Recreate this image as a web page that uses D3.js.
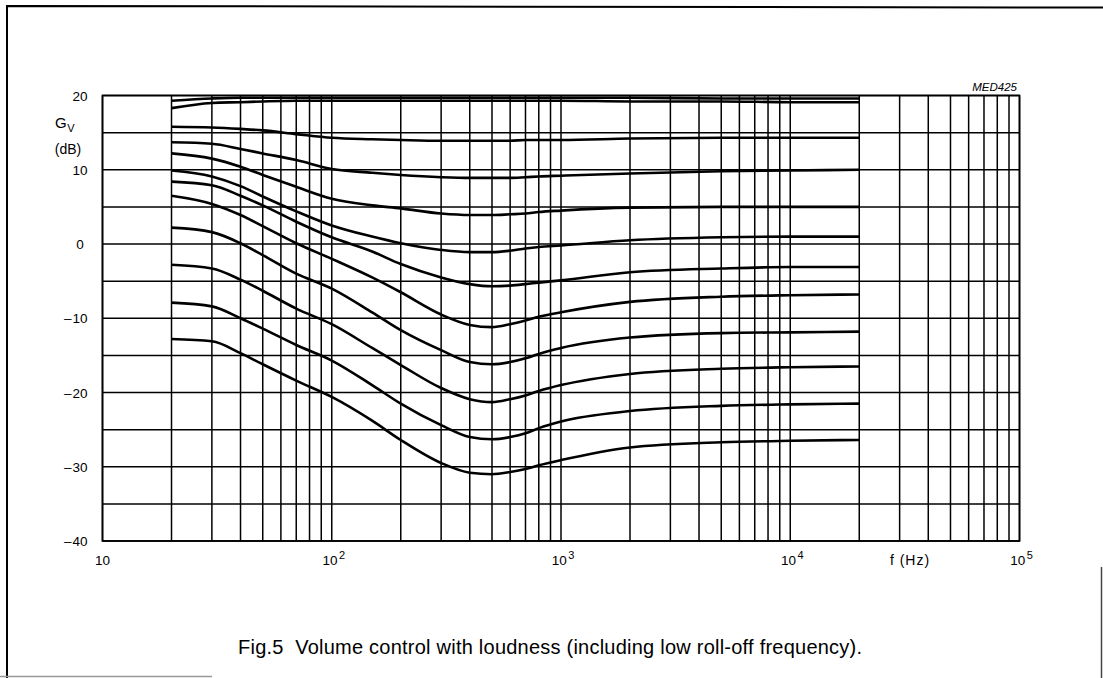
<!DOCTYPE html>
<html><head><meta charset="utf-8">
<script src="https://cdn.jsdelivr.net/npm/d3@7"></script>
<style>
html,body{margin:0;padding:0;background:#fff;}
svg{display:block;}
text{font-family:"Liberation Sans",Arial,sans-serif;fill:#000;}
</style></head>
<body>
<svg id="chart" width="1103" height="678"></svg>
<script>
// ---- data ----
const freqs = [20,30,40,50,70,100,150,200,300,400,500,600,700,800,1000,2000,5000,10000,20000];
const curve1  = [19.3,19.6,19.7,19.7,19.7,19.7,19.7,19.7,19.7,19.7,19.7,19.7,19.7,19.7,19.7,19.7,19.6,19.6,19.6];
const curve2  = [18.3,19.0,19.1,19.2,19.3,19.3,19.3,19.3,19.3,19.3,19.3,19.3,19.3,19.3,19.3,19.2,19.2,19.1,19.1];
const curve3  = [15.8,15.7,15.5,15.3,14.8,14.3,14.1,14.0,13.9,13.9,13.9,13.9,14.0,14.0,14.0,14.2,14.3,14.3,14.3];
const curve4  = [13.7,13.5,12.8,12.2,11.3,10.1,9.6,9.3,9.0,8.9,8.9,8.9,9.0,9.1,9.2,9.5,9.8,9.9,10.0];
const curve5  = [12.2,11.5,10.4,9.3,7.7,6.1,5.2,4.8,4.1,3.9,3.9,4.0,4.1,4.3,4.5,4.9,5.0,5.0,5.0];
const curve6  = [9.9,9.1,7.8,6.4,4.4,2.5,1.0,0.1,-0.8,-1.1,-1.1,-0.9,-0.6,-0.4,-0.2,0.5,0.9,1.0,1.0];
const curve7  = [8.4,7.9,6.5,5.2,3.0,0.9,-1.0,-2.7,-4.5,-5.4,-5.7,-5.6,-5.4,-5.2,-4.9,-3.8,-3.3,-3.1,-3.1];
const curve8  = [6.5,5.4,3.9,2.4,0.1,-2.0,-4.5,-6.5,-9.5,-10.9,-11.2,-10.8,-10.3,-9.8,-9.2,-7.8,-7.1,-6.9,-6.8];
const curve9  = [2.2,1.6,0.1,-1.5,-4.0,-6.0,-9.2,-11.6,-14.3,-15.9,-16.2,-15.9,-15.4,-14.8,-14.0,-12.6,-12.0,-11.9,-11.8];
const curve10 = [-2.8,-3.3,-4.8,-6.3,-8.7,-10.8,-14.0,-16.3,-19.4,-20.9,-21.3,-20.9,-20.4,-19.8,-19.0,-17.5,-16.8,-16.6,-16.5];
const curve11 = [-7.9,-8.4,-10.0,-11.4,-13.6,-15.7,-19.0,-21.5,-24.4,-26.0,-26.3,-26.0,-25.5,-24.8,-23.9,-22.5,-21.8,-21.6,-21.5];
const curve12 = [-12.8,-13.1,-14.7,-16.2,-18.4,-20.6,-23.8,-26.4,-29.5,-30.8,-31.0,-30.7,-30.3,-29.8,-29.1,-27.4,-26.7,-26.5,-26.4];
const seriesList = [curve1,curve2,curve3,curve4,curve5,curve6,curve7,curve8,curve9,curve10,curve11,curve12];

const yTickValues = [20,10,0,-10,-20,-30,-40];
const yGridValues = [20,15,10,5,0,-5,-10,-15,-20,-25,-30,-35,-40];
const xDecadeExponents = [1,2,3,4,5];
const xMultipliers = [1,2,3,4,5,6,7,8,9];
const captionText = "Fig.5  Volume control with loudness (including low roll-off frequency).";
const figCode = "MED425";
const xUnitLabel = "f (Hz)";

// ---- layout ----
const svg = d3.select("#chart");
const x = d3.scaleLog().domain([10, 1e5]).range([102.5, 1019.5]);
const y = d3.scaleLinear().domain([-40, 20]).range([541, 95.5]);

// outer frame fragments
svg.append("path").attr("d","M7,678 L7,6 L1103,7.5").attr("fill","none").attr("stroke","#000").attr("stroke-width",2);
svg.append("path").attr("d","M1101.5,567 L1101.5,678").attr("fill","none").attr("stroke","#444").attr("stroke-width",1.5);
svg.append("path").attr("d","M0,676.5 L212,676.5").attr("fill","none").attr("stroke","#999").attr("stroke-width",1.5);

const g = svg.append("g");

// vertical grid
const vLines = [];
xDecadeExponents.forEach(e => {
  xMultipliers.forEach(m => {
    const f = m * Math.pow(10, e);
    if (f <= 1e5 && !(e === 5 && m > 1)) vLines.push(f);
  });
});
g.selectAll("line.v").data(vLines).join("line")
  .attr("x1", d => x(d)).attr("x2", d => x(d))
  .attr("y1", y(20)).attr("y2", y(-40))
  .attr("stroke", "#000").attr("stroke-width", 1.5);

// horizontal grid
g.selectAll("line.h").data(yGridValues).join("line")
  .attr("x1", x(10)).attr("x2", x(1e5))
  .attr("y1", d => y(d)).attr("y2", d => y(d))
  .attr("stroke", "#000").attr("stroke-width", 1.5);

// border
g.append("rect").attr("x", x(10)).attr("y", y(20))
  .attr("width", x(1e5) - x(10)).attr("height", y(-40) - y(20))
  .attr("fill", "none").attr("stroke", "#000").attr("stroke-width", 1.7);

// curves
const line = d3.line().x(d => x(d[0])).y(d => y(d[1])).curve(d3.curveMonotoneX);
g.selectAll("path.curve").data(seriesList).join("path")
  .attr("class","curve")
  .attr("d", s => line(freqs.map((f, i) => [f, s[i]])))
  .attr("fill", "none").attr("stroke", "#000").attr("stroke-width", 2.6)
  .attr("stroke-linejoin","round");

// y tick labels (digits centred, minus sign hanging left)
yTickValues.forEach(v => {
  const digits = String(Math.abs(v));
  const t = svg.append("text").attr("x", 80).attr("y", y(v) + 5)
    .attr("text-anchor", "middle").attr("font-size", 13.5).text(digits);
  if (v < 0) {
    const w = t.node().getBBox().width;
    svg.append("text").attr("x", 80 - w / 2 - 1).attr("y", y(v) + 5)
      .attr("text-anchor", "end").attr("font-size", 13.5).text("\u2013");
  }
});

// y axis title
const gv = svg.append("text").attr("x", 55).attr("y", 128).attr("font-size", 15);
gv.append("tspan").text("G");
gv.append("tspan").attr("font-size", 11).attr("dy", 4).attr("dx", 0.5).text("V");
svg.append("text").attr("x", 68).attr("y", 154).attr("text-anchor", "middle")
  .attr("font-size", 14).text("(dB)");

// x tick labels
xDecadeExponents.forEach(e => {
  const f = Math.pow(10, e);
  const t = svg.append("text").attr("y", 565).attr("font-size", 13.5)
    .attr("text-anchor", "middle");
  if (e === 1) {
    t.attr("x", x(f)).text("10");
  } else {
    t.attr("x", x(f) + 2);
    t.append("tspan").text("10");
    t.append("tspan").attr("font-size", 11).attr("dy", -6).attr("dx", 1.5).text(String(e));
  }
});
svg.append("text").attr("x", 910).attr("y", 565).attr("text-anchor", "middle")
  .attr("font-size", 14).attr("letter-spacing", 1).text(xUnitLabel);

// figure code
svg.append("text").attr("x", 1017).attr("y", 91).attr("text-anchor", "end")
  .attr("font-size", 11.5).attr("font-style", "italic").text(figCode);

// caption
svg.append("text").attr("x", 238).attr("y", 654)
  .attr("font-size", 20).style("white-space", "pre")
  .attr("textLength", 624).attr("lengthAdjust", "spacing")
  .text(captionText);
</script>
</body></html>
